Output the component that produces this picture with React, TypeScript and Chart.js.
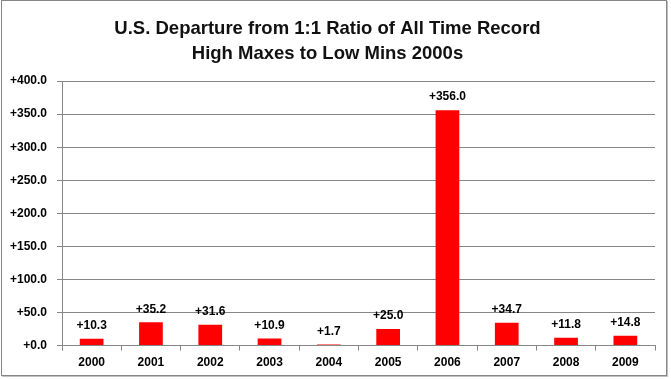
import React, { useEffect, useRef } from "react";
import { Chart, registerables } from "chart.js";

Chart.register(...registerables);

const years = ["2000", "2001", "2002", "2003", "2004", "2005", "2006", "2007", "2008", "2009"];
const departures = [10.3, 35.2, 31.6, 10.9, 1.7, 25.0, 356.0, 34.7, 11.8, 14.8];
const titleLines = ["U.S. Departure from 1:1 Ratio of All Time Record", "High Maxes to Low Mins 2000s"];

const FONT = "'Liberation Sans', Arial, sans-serif";

const fmt = (v: number) => "+" + v.toFixed(1);

const valueLabels = {
  id: "valueLabels",
  afterDatasetsDraw(chart: any) {
    const ctx = chart.ctx;
    const meta = chart.getDatasetMeta(0);
    ctx.save();
    ctx.font = `bold 12px ${FONT}`;
    ctx.fillStyle = "#000";
    ctx.textAlign = "center";
    ctx.textBaseline = "middle";
    meta.data.forEach((bar: any, i: number) => {
      ctx.fillText(fmt(departures[i]), bar.x, bar.y - 13);
    });
    ctx.restore();
  },
};

export default function App() {
  const ref = useRef<HTMLCanvasElement>(null);
  useEffect(() => {
    document.body.style.margin = "0";
    const chart = new Chart(ref.current!, {
      type: "bar",
      data: {
        labels: years,
        datasets: [
          {
            data: departures,
            backgroundColor: "#ff0000",
            borderWidth: 0,
            barPercentage: 0.4,
            categoryPercentage: 1,
          },
        ],
      },
      options: {
        animation: false,
        responsive: false,
        maintainAspectRatio: false,
        layout: { padding: { left: 0, right: 16, top: 0, bottom: 4 } },
        plugins: {
          legend: { display: false },
          tooltip: { enabled: false },
          title: {
            display: true,
            text: titleLines,
            color: "#111",
            font: { family: FONT, size: 18.5, weight: "bold", lineHeight: 1.38 },
            padding: { top: 16, bottom: 14 },
          },
        },
        scales: {
          x: {
            grid: {
              display: true,
              drawOnChartArea: false,
              drawTicks: true,
              tickLength: 5,
              color: "#868686",
              offset: true,
            },
            border: { display: true, color: "#868686", width: 1 },
            ticks: { color: "#000", font: { family: FONT, size: 12, weight: "bold" }, padding: 5 },
          },
          y: {
            min: 0,
            max: 400,
            afterFit: (s: any) => {
              s.width = 62;
            },
            grid: { color: "#868686", tickLength: 5, drawTicks: true },
            border: { display: true, color: "#868686", width: 1 },
            ticks: {
              stepSize: 50,
              color: "#000",
              padding: 10,
              font: { family: FONT, size: 12, weight: "bold" },
              callback: (v: any) => fmt(Number(v)),
            },
          },
        },
      },
      plugins: [valueLabels],
    });
    return () => chart.destroy();
  }, []);
  return (
    <div style={{ position: "fixed", left: 0, top: 0, width: 671, height: 379, background: "#fff" }}>
      <div
        style={{
          position: "absolute",
          left: 1,
          top: 0,
          width: 666,
          height: 376,
          border: "1px solid #868686",
          boxShadow: "1px 1px 0 #c0c0c0",
          boxSizing: "border-box",
        }}
      />
      <canvas ref={ref} width={671} height={379} style={{ position: "absolute", left: 0, top: 0 }} />
    </div>
  );
}
